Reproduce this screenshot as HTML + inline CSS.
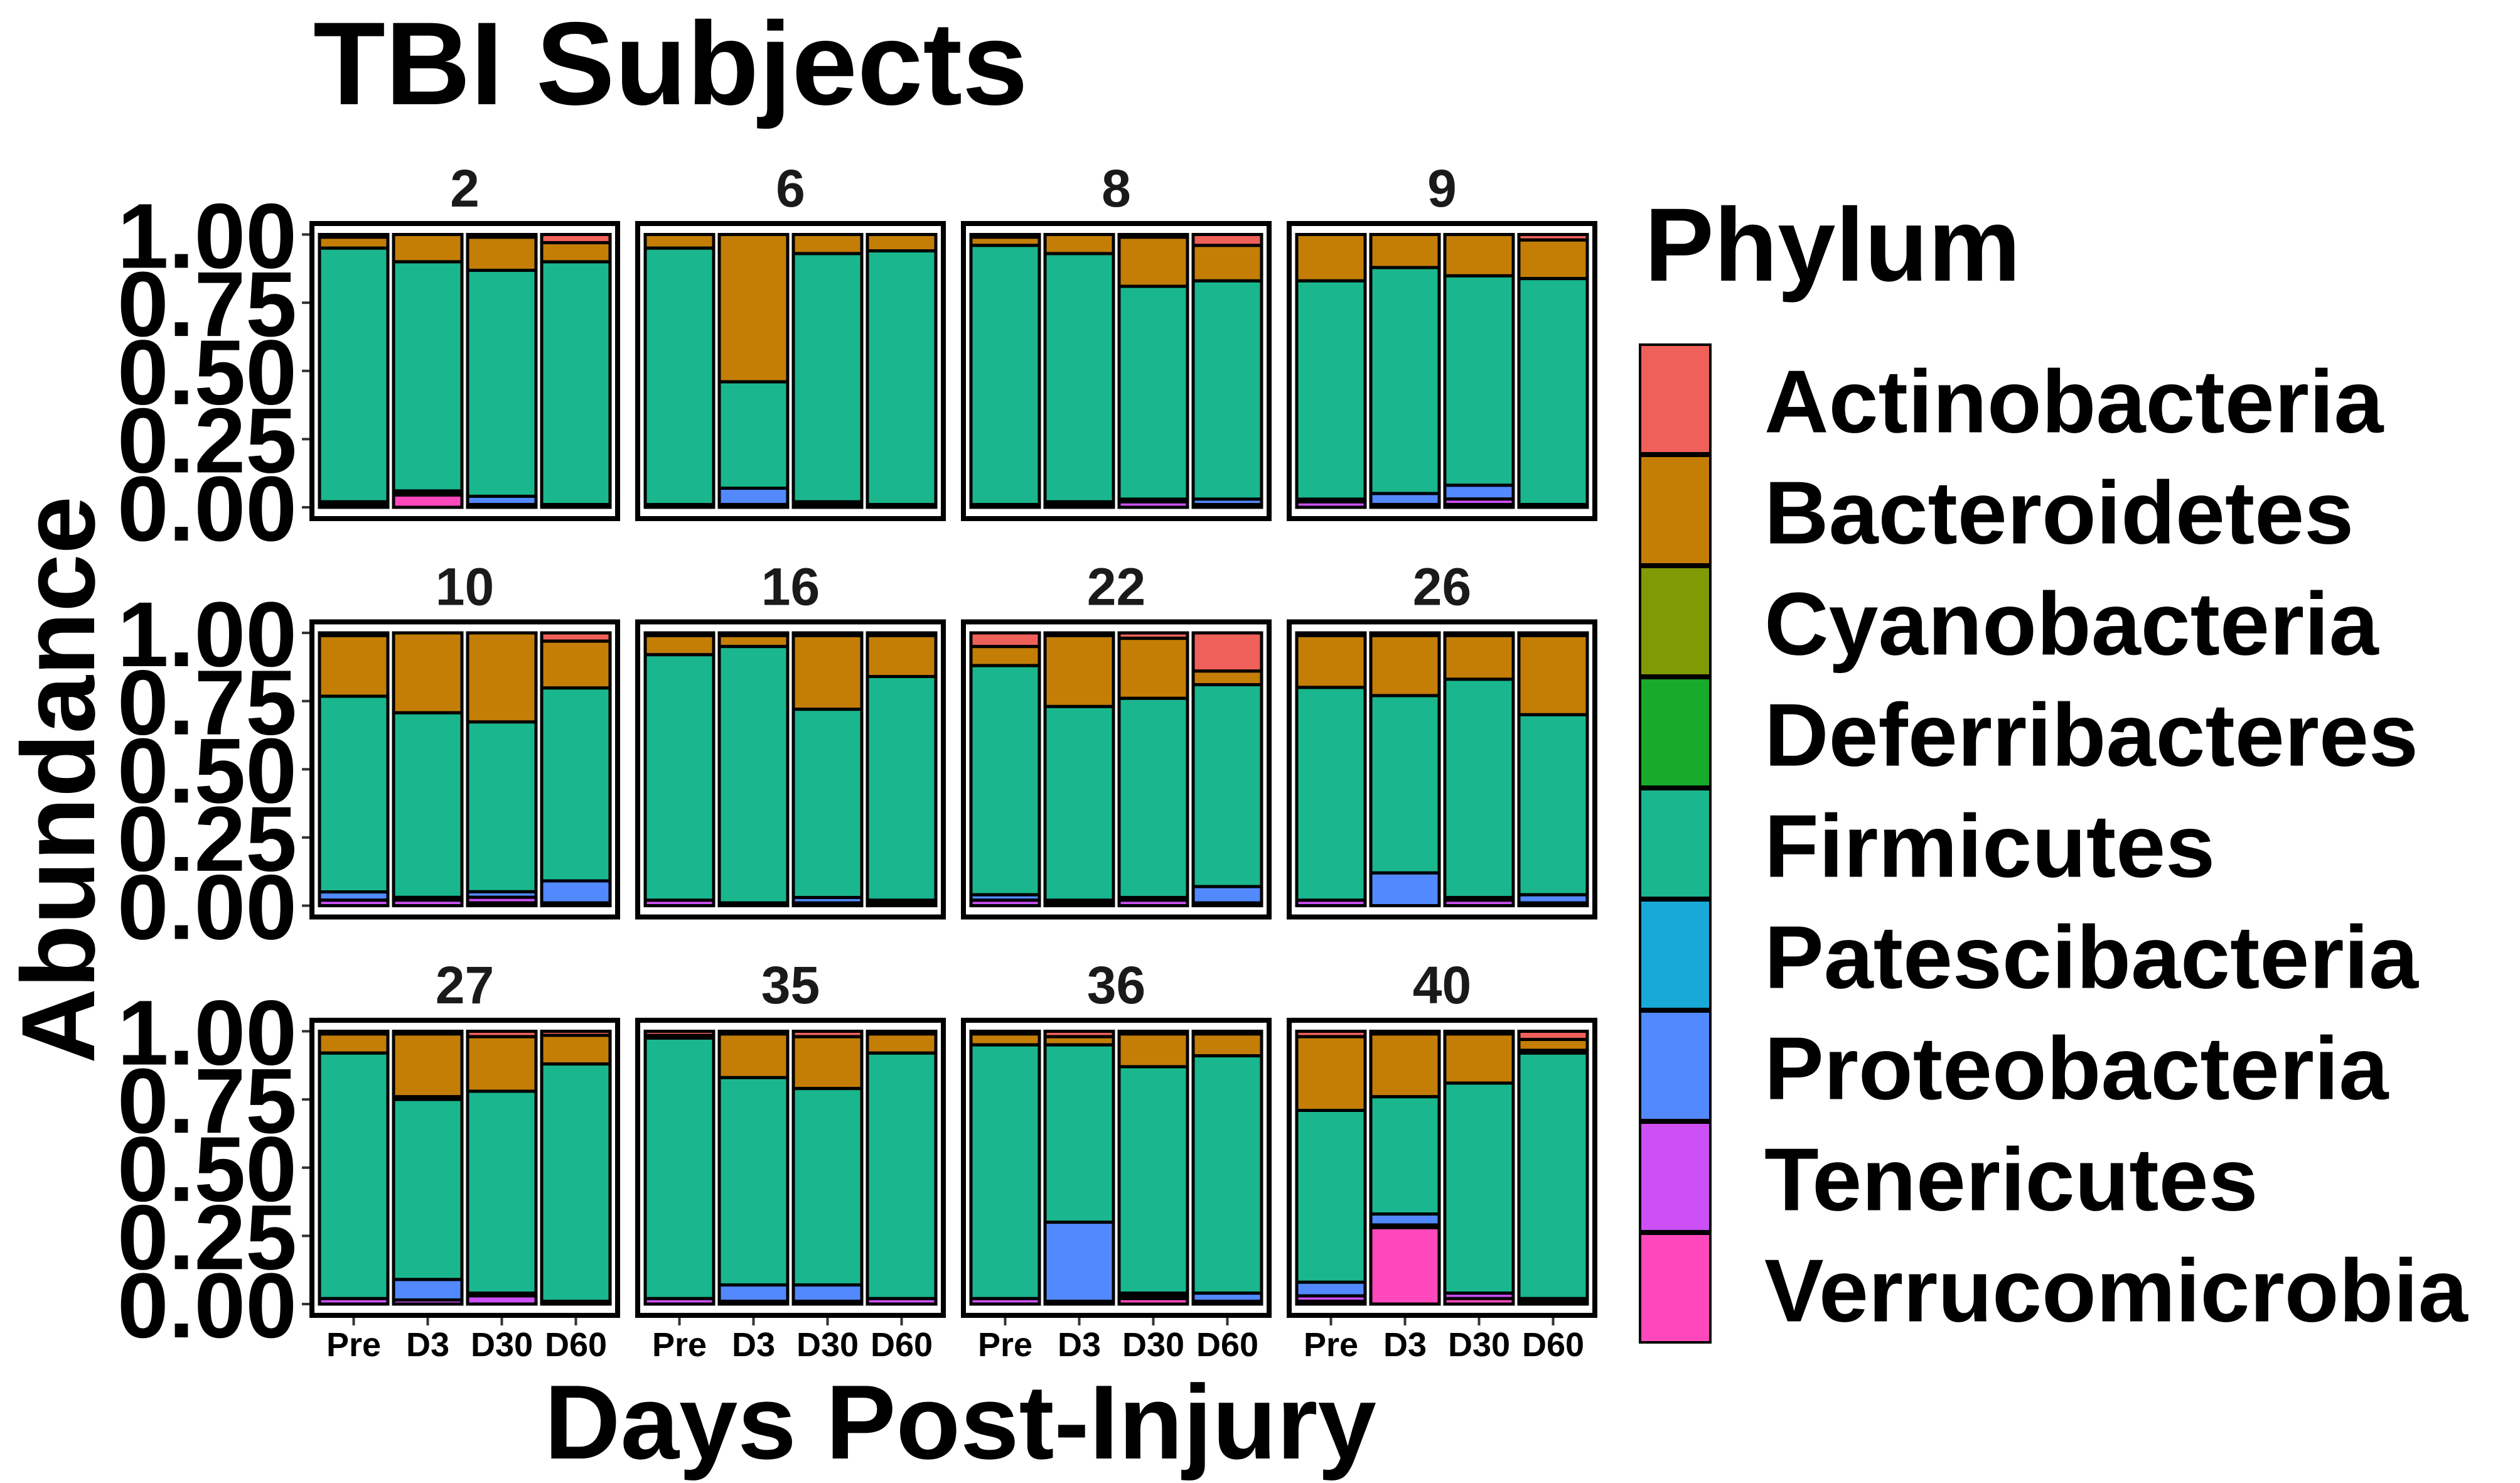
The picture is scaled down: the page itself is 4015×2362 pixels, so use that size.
<!DOCTYPE html>
<html><head><meta charset="utf-8"><style>
html,body{margin:0;padding:0;background:#fff}
svg{display:block}
text{font-family:"Liberation Sans",Arial,sans-serif;font-weight:bold}
</style></head><body>
<svg id="chart" width="4015" height="2362" viewBox="0 0 4015 2362" xmlns="http://www.w3.org/2000/svg">
<rect width="4015" height="2362" fill="#fff"/>
<text x="499" y="166" font-size="188" fill="#000">TBI Subjects</text>
<text transform="translate(150,1242) rotate(-90)" text-anchor="middle" font-size="166" fill="#000">Abundance</text>
<text x="1530" y="2323" text-anchor="middle" font-size="168" fill="#000">Days Post-Injury</text>
<g id="panels"></g>
<g id="legend"></g>
</svg>
<script>
const subjects = ["2","6","8","9","10","16","22","26","27","35","36","40"];
const timepoints = ["Pre","D3","D30","D60"];
const phyla = ["Actinobacteria","Bacteroidetes","Cyanobacteria","Deferribacteres","Firmicutes","Patescibacteria","Proteobacteria","Tenericutes","Verrucomicrobia"];
const yTicks = [0, 0.25, 0.5, 0.75, 1];
const yTickLabels = ["0.00","0.25","0.50","0.75","1.00"];
const colors = ["#F0605A","#C47E06","#7F9A05","#18AA2A","#1AB78E","#19A9D8","#5289FF","#CC50F5","#FF48BB"];
// abundance per subject, per timepoint: [A,B,C,D,F,Pa,Pr,T,V]
const s2  = [[.01,.04,0,0,.93,0,.01,.01,0],[0,.10,0,0,.84,0,.005,.01,.045],[.01,.12,0,0,.82,0,.03,.01,0],[.03,.07,0,0,.89,0,0,0,.01]];
const s6  = [[0,.05,0,0,.94,0,0,.01,0],[0,.54,0,0,.39,0,.06,.01,0],[0,.07,0,0,.91,0,.01,.01,0],[0,.06,0,0,.93,0,0,.01,0]];
const s8  = [[.01,.03,0,0,.95,0,0,.01,0],[0,.07,0,0,.91,0,.01,.01,0],[.01,.18,0,0,.78,0,.01,.02,0],[.04,.13,0,0,.80,0,.02,.01,0]];
const s9  = [[0,.17,0,0,.80,0,.01,.02,0],[0,.12,0,0,.82,0,.04,.01,0],[0,.15,0,0,.76,0,.05,.02,.01],[.02,.14,0,0,.82,0,0,.01,0]];
const s10 = [[.01,.22,0,0,.71,0,.03,.02,0],[0,.29,0,0,.67,0,.01,.02,0],[0,.32,0,0,.61,0,.02,.02,.01],[.03,.17,0,0,.70,0,.08,.01,0]];
const s16 = [[.01,.07,0,0,.90,0,0,.02,0],[.01,.04,0,0,.94,0,0,.01,0],[.01,.27,0,0,.69,0,.02,.01,0],[.01,.15,0,0,.82,0,0,.01,.01]];
const s22 = [[.05,.07,0,0,.84,0,.02,.02,0],[.01,.26,0,0,.71,0,.01,.01,0],[.02,.22,0,0,.73,0,.01,.02,0],[.14,.05,0,0,.74,0,.06,.01,0]];
const s26 = [[.01,.19,0,0,.78,0,0,.02,0],[.01,.22,0,0,.65,0,.12,0,0],[.01,.16,0,0,.80,0,.01,.02,0],[.01,.29,0,0,.66,0,.03,.01,0]];
const s27 = [[.01,.07,0,0,.90,0,0,.02,0],[.01,.23,.01,0,.66,0,.075,.015,0],[.02,.20,0,0,.74,0,.01,.03,0],[.015,.105,0,0,.87,0,0,.01,0]];
const s35 = [[.015,.01,0,0,.955,0,0,.02,0],[.01,.16,0,0,.76,0,.06,.005,.005],[.02,.19,0,0,.72,0,.06,.01,0],[.01,.07,0,0,.90,0,0,.02,0]];
const s36 = [[.01,.04,0,0,.93,0,0,.02,0],[.02,.03,0,0,.65,0,.29,.01,0],[.01,.12,0,0,.83,0,.01,.01,.02],[.01,.08,0,0,.87,0,.03,.01,0]];
const s40 = [[.02,.27,0,0,.63,0,.05,.02,.01],[.01,.23,0,0,.43,0,.04,.01,.28],[.01,.18,0,0,.77,0,0,.02,.02],[.03,.04,.01,0,.90,0,0,.01,.01]];
const abundance = [s2,s6,s8,s9,s10,s16,s22,s26,s27,s35,s36,s40];

const NS = "http://www.w3.org/2000/svg";
const panelsG = document.getElementById("panels");
const P = {x0:493, y0:352, w:495, h:478, dx:519, dy:634.5};
function mk(tag, attrs, parent){const e=document.createElementNS(NS,tag);for(const k in attrs)e.setAttribute(k,attrs[k]);parent.appendChild(e);return e;}
function yScale(row, v){return P.y0 + row*P.dy + 21.5 + (1-v)*434.5;}
function xBand(col, i){return P.x0 + col*P.dx + 16 + i*118;}
const barW = 109;

subjects.forEach((sub, si) => {
  const col = si % 4, row = Math.floor(si/4);
  const px = P.x0 + col*P.dx, py = P.y0 + row*P.dy;
  const g = mk("g", {}, panelsG);
  
  
  const strip = mk("text", {x: px + P.w/2, y: py - 23, "text-anchor":"middle", "font-size":84, fill:"#1a1a1a"}, g);
  strip.textContent = sub;
  
  
  timepoints.forEach((tp, ti) => {
    const vals = abundance[si][ti];
    const tot = vals.reduce((a,b)=>a+b,0);
    let cum = 1;
    vals.forEach((v, pi) => {
      if (v <= 0) return;
      const frac = v/tot;
      const yTop = yScale(row, cum), yBot = yScale(row, cum - frac);
      const r = mk("rect", {x: xBand(col, ti), y: yTop, width: barW, height: Math.max(0.5, yBot - yTop), fill: colors[pi], stroke:"#000", "stroke-width":5}, g);
      
      
      cum -= frac;
    });
    if (row === 2) {
      const cx = xBand(col, ti) + barW/2;
      const tk = mk("line", {x1:cx, x2:cx, y1:py+P.h, y2:py+P.h+12, stroke:"#333", "stroke-width":4}, g);
      
      
      const tl = mk("text", {x:cx, y:2160, "text-anchor":"middle", "font-size":54, fill:"#000"}, g);
      tl.textContent = tp;
      
      
    }
  });
  const border = mk("rect", {x:px+4, y:py+4, width:P.w-8, height:P.h-8, fill:"none", stroke:"#000", "stroke-width":8}, g);
  
  
  if (col === 0) {
    yTicks.forEach((t, k) => {
      const yy = yScale(row, t);
      const tk = mk("line", {x1:481, x2:493, y1:yy, y2:yy, stroke:"#333", "stroke-width":4}, g);
      
      
      const tl = mk("text", {x:473, y:yy+53, "text-anchor":"end", "font-size":147, fill:"#000"}, g);
      tl.textContent = yTickLabels[k];
      
      
    });
  }
});

const lg = document.getElementById("legend");


const lt = mk("text", {x:2620, y:447, "font-size":166, fill:"#000"}, lg);
lt.textContent = "Phylum";


phyla.forEach((ph, i) => {
  const y = 547 + i*177;
  const k = mk("rect", {x:2613, y:y+2, width:112, height:173, fill:colors[i], stroke:"#000", "stroke-width":4}, lg);
  
  
  const t = mk("text", {x:2811, y:y+88.5+53, "font-size":142, fill:"#000"}, lg);
  t.textContent = ph;
  
  
});
</script>
</body></html>
